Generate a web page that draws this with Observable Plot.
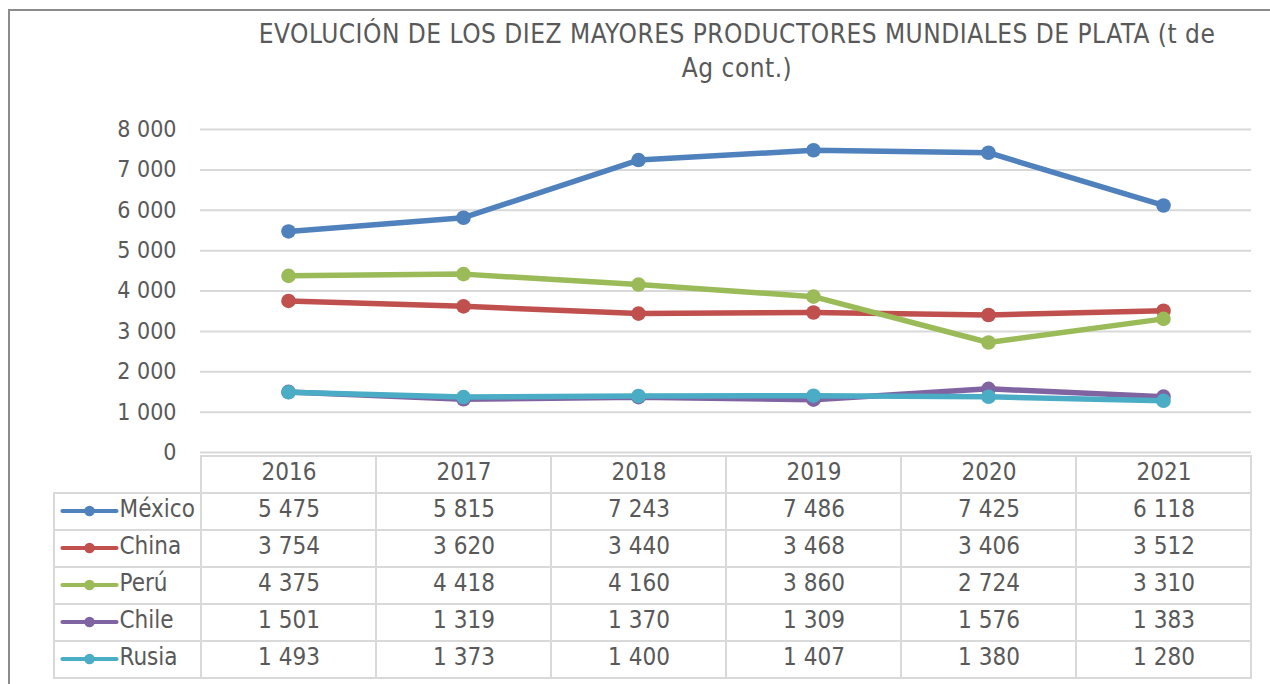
<!DOCTYPE html>
<html><head><meta charset="utf-8">
<script src="https://cdn.jsdelivr.net/npm/d3@7"></script>
<script src="https://cdn.jsdelivr.net/npm/@observablehq/plot@0.6"></script>
<style>
html,body{margin:0;padding:0;background:#fff;overflow:hidden;}
#wrap{position:relative;width:1270px;height:684px;overflow:hidden;font-family:"DejaVu Sans Condensed","DejaVu Sans",sans-serif;}
#frame{position:absolute;left:8px;top:9px;width:1400px;height:900px;border:2px solid #8c8c8c;}
#title{position:absolute;left:187px;width:1100px;top:17px;text-align:center;font-size:26px;letter-spacing:0.5px;line-height:34px;color:#595959;}
#wrap svg{position:absolute;left:0;top:0;}
</style></head>
<body><div id="wrap"><div id="frame"></div><div id="title">EVOLUCIÓN DE LOS DIEZ MAYORES PRODUCTORES MUNDIALES DE PLATA (t de<br>Ag cont.)</div></div>
<script>
const years = ["2016", "2017", "2018", "2019", "2020", "2021"];
const series = ["México", "China", "Perú", "Chile", "Rusia"];
const colors = ["#4F81BD", "#C0504D", "#9BBB59", "#8064A2", "#4BACC6"];
const mexico = [5475, 5815, 7243, 7486, 7425, 6118];
const china  = [3754, 3620, 3440, 3468, 3406, 3512];
const peru   = [4375, 4418, 4160, 3860, 2724, 3310];
const chile  = [1501, 1319, 1370, 1309, 1576, 1383];
const rusia  = [1493, 1373, 1400, 1407, 1380, 1280];
const yTicks = [0, 1000, 2000, 3000, 4000, 5000, 6000, 7000, 8000];

const valuesBySeries = [mexico, china, peru, chile, rusia];
const data = series.flatMap((s, i) => years.map((y, j) => ({country: s, year: y, value: valuesBySeries[i][j]})));
const fmt = d3.formatLocale({decimal: ",", thousands: " ", grouping: [3], currency: ["", ""]}).format(",d");
const FONT = '"DejaVu Sans Condensed","DejaVu Sans",sans-serif';
const TXT = "#595959";
const GRID = "#d9d9d9";

const chart = Plot.plot({
  width: 1270, height: 684,
  marginLeft: 200, marginRight: 19, marginTop: 129, marginBottom: 232,
  x: {type: "point", domain: years, padding: 0.5, axis: null},
  y: {domain: [0, 8000], axis: null},
  color: {domain: series, range: colors},
  style: {fontFamily: FONT, fontSize: "23px", color: TXT, background: "transparent"},
  marks: [
    Plot.ruleY(yTicks, {stroke: GRID, strokeWidth: 2}),
    Plot.text(yTicks, {y: d => d, text: d => fmt(d), frameAnchor: "left", textAnchor: "end", dx: -24, fill: TXT, fontSize: 23}),
    ...series.flatMap(s => [
      Plot.line(data.filter(d => d.country === s), {x: "year", y: "value", stroke: "country", strokeWidth: 5.5, strokeLinecap: "round", strokeLinejoin: "round"}),
      Plot.dot(data.filter(d => d.country === s), {x: "year", y: "value", fill: "country", r: 7.3})
    ])
  ]
});

const legendSymbol = {
  draw(context, size) {
    const h = 2.1, L = 27;
    context.moveTo(-L, -h);
    context.lineTo(L, -h);
    context.arc(L, 0, h, -Math.PI / 2, Math.PI / 2);
    context.lineTo(-L, h);
    context.arc(-L, 0, h, Math.PI / 2, 3 * Math.PI / 2);
    context.closePath();
    context.moveTo(5.3, 0);
    context.arc(0, 0, 5.3, 0, 2 * Math.PI);
    context.closePath();
  }
};

const HEAD = "año";
const cells = [...years.map(y => ({year: y, row: HEAD})), ...data.map(d => ({year: d.year, row: d.country}))];

const table = Plot.plot({
  width: 1270, height: 684,
  marginLeft: 54, marginRight: 19, marginTop: 453, marginBottom: 4,
  x: {type: "band", domain: years, range: [200, 1251], padding: 0, axis: null},
  y: {type: "band", domain: [HEAD, ...series], range: [453, 680], padding: 0, axis: null},
  color: {domain: series, range: colors},
  style: {fontFamily: FONT, fontSize: "24px", color: TXT, background: "transparent"},
  marks: [
    Plot.cell(series, {y: d => d, stroke: GRID, strokeWidth: 2, fill: "none", inset: 0}),
    Plot.cell(cells, {x: "year", y: "row", stroke: GRID, strokeWidth: 2, fill: "none", inset: 0}),
    Plot.text(years, {x: d => d, y: () => HEAD, text: d => d, fill: TXT, fontSize: 24, dy: -3}),
    Plot.text(data, {x: "year", y: "country", text: d => fmt(d.value), fill: TXT, fontSize: 24, dy: -3}),
    Plot.dot(series, {y: d => d, frameAnchor: "left", dx: 35, symbol: legendSymbol, fill: d => d, r: 6, dy: -1}),
    Plot.text(series, {y: d => d, text: d => d, frameAnchor: "left", dx: 65, textAnchor: "start", fill: TXT, fontSize: 24, dy: -3})
  ]
});

const wrap = document.getElementById("wrap");
wrap.appendChild(table);
wrap.appendChild(chart);
</script>
</body></html>
